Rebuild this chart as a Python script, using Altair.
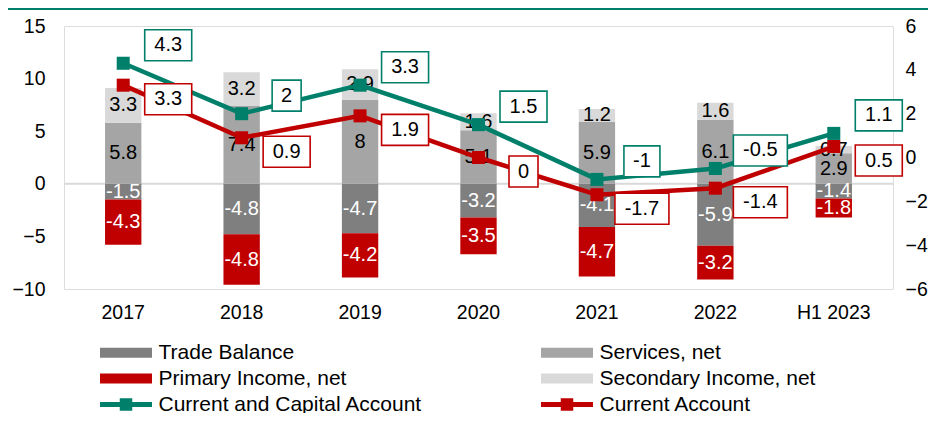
import altair as alt
import pandas as pd

# ---------------- data ----------------
years = ["2017", "2018", "2019", "2020", "2021", "2022", "H1 2023"]
trade_balance = [-1.5, -4.8, -4.7, -3.2, -4.1, -5.9, -1.4]
services_net = [5.8, 7.4, 8.0, 5.1, 5.9, 6.1, 2.9]
primary_income = [-4.3, -4.8, -4.2, -3.5, -4.7, -3.2, -1.8]
secondary_income = [3.3, 3.2, 2.9, 1.6, 1.2, 1.6, 0.7]
current_capital = [4.3, 2.0, 3.3, 1.5, -1.0, -0.5, 1.1]
current_account = [3.3, 0.9, 1.9, 0.0, -1.7, -1.4, 0.5]

bar_names = ["Trade Balance", "Services, net", "Primary Income, net", "Secondary Income, net"]
line_names = ["Current and Capital Account", "Current Account"]
left_ticks = [-10, -5, 0, 5, 10, 15]
right_ticks = [-6, -4, -2, 0, 2, 4, 6]

# ---------------- styles ----------------
GREEN = "#00806a"
RED = "#c00000"
series_colors = {
    "Trade Balance": "#7f7f7f",
    "Services, net": "#a5a5a5",
    "Primary Income, net": RED,
    "Secondary Income, net": "#d9d9d9",
    "Current and Capital Account": GREEN,
    "Current Account": RED,
}
# legend is filled column by column (2 columns x 3 rows)
legend_order = ["Trade Balance", "Primary Income, net", "Current and Capital Account",
                "Services, net", "Secondary Income, net", "Current Account"]
FONT = "Liberation Sans"
W, H = 829, 263

bar_series = [trade_balance, services_net, primary_income, secondary_income]
stack_rank = [0, 0, 1, 1]
bar_rows = []
for name, vals, rank in zip(bar_names, bar_series, stack_rank):
    for y, v in zip(years, vals):
        bar_rows.append({"year": y, "series": name, "value": v, "ord": rank})
bars_df = pd.DataFrame(bar_rows)

line_rows = []
for name, vals in zip(line_names, [current_capital, current_account]):
    for y, v in zip(years, vals):
        line_rows.append({"year": y, "series": name, "value": v})
lines_df = pd.DataFrame(line_rows)

color_scale = alt.Scale(domain=legend_order, range=[series_colors[s] for s in legend_order])

x_enc = alt.X(
    "year:N", sort=years,
    scale=alt.Scale(paddingInner=0.693, paddingOuter=0.3465),
    axis=alt.Axis(title=None, labelAngle=0, domain=False, ticks=False,
                  labelPadding=14, labelFontSize=19.5, labelColor="black",
                  labelFont=FONT),
)

left_scale = alt.Scale(domain=[-10, 15], nice=False, zero=False)
left_axis = alt.Axis(orient="left", values=left_ticks, title=None, domain=False,
                     ticks=False, grid=False, labelPadding=19, labelFontSize=19.5,
                     labelColor="black", labelFont=FONT)
right_scale = alt.Scale(domain=[-6, 6], nice=False, zero=False)
right_axis = alt.Axis(orient="right", values=right_ticks, title=None, domain=False,
                      ticks=False, grid=False, labelPadding=12, labelFontSize=19.5,
                      labelColor="black", labelFont=FONT)

BAR_PATH = "M-5.2,-1L5.2,-1L5.2,1L-5.2,1Z"
LINE_PATH = ("M-5.2,-0.5L-1.25,-0.5L-1.25,-1.25L1.25,-1.25L1.25,-0.5L5.2,-0.5"
             "L5.2,0.5L1.25,0.5L1.25,1.25L-1.25,1.25L-1.25,0.5L-5.2,0.5Z")
shape_signal = ("indexof(['Current and Capital Account','Current Account'], datum.value) >= 0 ? '"
                + LINE_PATH + "' : '" + BAR_PATH + "'")

legend = alt.Legend(
    title=None, orient="none", legendX=36, legendY=316, columns=2,
    columnPadding=118, rowPadding=4, symbolSize=100, symbolOffset=15.5,
    labelOffset=22, labelFontSize=21, labelFont=FONT, labelColor="black",
    labelLimit=400, symbolStrokeWidth=0, padding=0,
    symbolType={"expr": shape_signal},
)

# ---------------- left (bars) ----------------
base_bars = alt.Chart(bars_df).transform_stack(
    stack="value", as_=["y0", "y1"], groupby=["year"],
    sort=[alt.SortField("ord", order="ascending")],
).transform_calculate(mid="(datum.y0 + datum.y1) / 2", label="toString(datum.value)")

bars = base_bars.mark_bar().encode(
    x=x_enc,
    y=alt.Y("y0:Q", scale=left_scale, axis=left_axis),
    y2="y1:Q",
    color=alt.Color("series:N", scale=color_scale, legend=legend),
)

bar_text = base_bars.mark_text(fontSize=20, font=FONT, baseline="middle").encode(
    x=x_enc,
    y=alt.Y("mid:Q", scale=left_scale, axis=left_axis),
    text="label:N",
    color=alt.condition("datum.value < 0", alt.value("white"), alt.value("black")),
)

zero_rule = alt.Chart(pd.DataFrame({"zero": [0]})).mark_rule(
    color="#d9d9d9", strokeWidth=2
).encode(y=alt.Y("zero:Q", scale=left_scale, axis=left_axis))

top_rule = alt.Chart(pd.DataFrame({"k": [0]})).mark_rule(
    color=GREEN, strokeWidth=2
).encode(x=alt.value(-56), x2=alt.value(W + 35), y=alt.value(-17))

left = alt.layer(top_rule, zero_rule, bars, bar_text)

# ---------------- right (lines) ----------------
base_lines = alt.Chart(lines_df).transform_calculate(
    label="toString(datum.value)"
).transform_calculate(len="length(datum.label)")

y_right = alt.Y("value:Q", scale=right_scale, axis=right_axis)

line = base_lines.mark_line(strokeWidth=4.5).encode(
    x=x_enc, y=y_right,
    color=alt.Color("series:N", scale=color_scale, legend=None),
)
squares = base_lines.mark_square(size=170, opacity=1).encode(
    x=x_enc, y=y_right,
    color=alt.Color("series:N", scale=color_scale, legend=None),
)

box_paths = [
    "M-1.45,-1.55L1.45,-1.55L1.45,1.55L-1.45,1.55Z",
    "M-1.8,-1.55L1.8,-1.55L1.8,1.55L-1.8,1.55Z",
    "M-2.35,-1.55L2.35,-1.55L2.35,1.55L-2.35,1.55Z",
    "M-2.7,-1.55L2.7,-1.55L2.7,1.55L-2.7,1.55Z",
]
shape_enc = alt.Shape("len:O", scale=alt.Scale(domain=[1, 2, 3, 4], range=box_paths), legend=None)


def boxed(series_name, col, dx, dy):
    src = base_lines.transform_filter(alt.datum.series == series_name)
    box = src.mark_point(filled=True, fill="white", stroke=col, strokeWidth=1.6,
                         size=400, opacity=1, xOffset=dx, yOffset=dy).encode(
        x=x_enc, y=y_right, shape=shape_enc)
    txt = src.mark_text(fontSize=20, font=FONT, color="black", baseline="middle",
                        dx=dx, dy=dy).encode(x=x_enc, y=y_right, text="label:N")
    return [box, txt]


right = alt.layer(line, squares,
                  *boxed(line_names[0], GREEN, 45, -18),
                  *boxed(line_names[1], RED, 45, 14))

chart = alt.layer(left, right).resolve_scale(y="independent").properties(
    width=W, height=H,
    padding={"left": 56, "top": 18, "right": 35, "bottom": 124},
    autosize=alt.AutoSizeParams(type="none"),
).configure_view(stroke=None).configure(font=FONT)

chart.save("out.html", embed_options={"renderer": "svg", "actions": False})
